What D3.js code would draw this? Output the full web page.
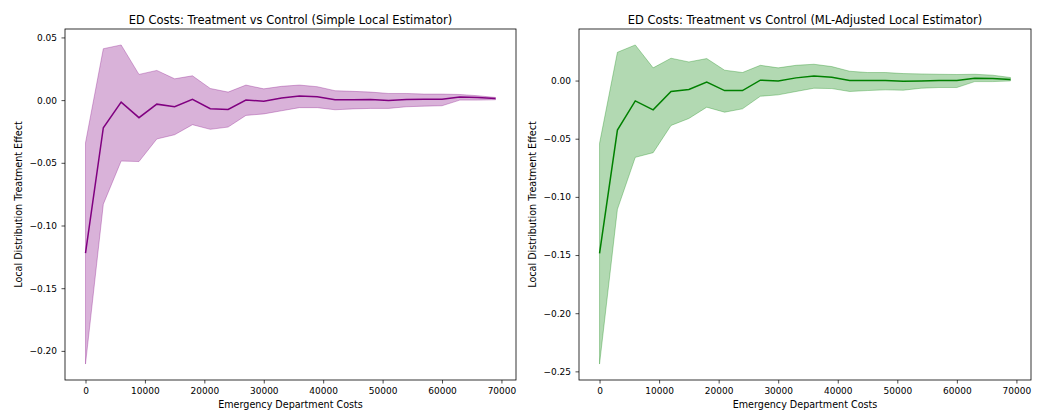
<!DOCTYPE html>
<html>
<head>
<meta charset="utf-8">
<script src="https://cdnjs.cloudflare.com/ajax/libs/d3/7.8.5/d3.min.js"></script>
<style>
  body { margin: 0; background: #fff; }
  svg text { font-family: "DejaVu Sans", sans-serif; fill: #000; }
</style>
</head>
<body>
<svg id="chart" width="1038" height="410"></svg>
<script>
// cost grid (x) shared by both panels
const costGrid = [0, 3000, 6000, 9000, 12000, 15000, 18000, 21000, 24000, 27000, 30000, 33000,
                  36000, 39000, 42000, 45000, 48000, 51000, 54000, 57000, 60000, 63000, 66000, 69000];

// simple local estimator
const simpleMean = [-0.122, -0.022, -0.0016, -0.014, -0.0032, -0.0053, 0.0006, -0.0069, -0.0074, 0.0, -0.0008, 0.0016,
                    0.0032, 0.0027, 0.0003, 0.0003, 0.0005, -0.0003, 0.0005, 0.0006, 0.0006, 0.0024, 0.002, 0.0013];
const simpleUpper = [-0.034, 0.041, 0.044, 0.0205, 0.0237, 0.017, 0.0194, 0.0093, 0.0064, 0.012, 0.009, 0.011,
                     0.012, 0.0107, 0.0075, 0.007, 0.0064, 0.0053, 0.0053, 0.0048, 0.0048, 0.0045, 0.0035, 0.0021];
const simpleLower = [-0.2105, -0.083, -0.0486, -0.049, -0.031, -0.0276, -0.0196, -0.0233, -0.0215, -0.0122, -0.011, -0.0085,
                     -0.006, -0.006, -0.0077, -0.007, -0.0066, -0.0066, -0.0053, -0.0048, -0.0045, 0.0, 0.0, 0.0003];

// ML-adjusted local estimator
const mlMean = [-0.1485, -0.0426, -0.0175, -0.0252, -0.0094, -0.0077, -0.0014, -0.0086, -0.0086, 0.0003, -0.0003, 0.0023,
                0.004, 0.0029, 0.0, 0.0, 0.0, -0.0006, -0.0003, 0.0, 0.0, 0.002, 0.0017, 0.0009];
const mlUpper = [-0.054, 0.0243, 0.0306, 0.0109, 0.0192, 0.016, 0.0189, 0.0089, 0.0069, 0.0131, 0.0109, 0.0131,
                 0.014, 0.012, 0.008, 0.0069, 0.0069, 0.006, 0.0057, 0.0054, 0.0052, 0.0054, 0.0046, 0.0026];
const mlLower = [-0.2437, -0.1107, -0.066, -0.062, -0.0386, -0.0326, -0.0229, -0.0272, -0.0243, -0.0135, -0.0123, -0.0094,
                 -0.0066, -0.0069, -0.0094, -0.0086, -0.008, -0.0083, -0.0066, -0.006, -0.006, -0.0009, -0.0009, -0.0003];

const xTicks = [0, 10000, 20000, 30000, 40000, 50000, 60000, 70000];
const simpleYTicks = [0.05, 0.0, -0.05, -0.10, -0.15, -0.20];
const mlYTicks = [0.0, -0.05, -0.10, -0.15, -0.20, -0.25];

const svg = d3.select('#chart');
const fmtY = (d) => d3.format('.2f')(d).replace('-', '\u2212');

function drawPanel(opts) {
    const { left, right, top, bottom, title, mean, lower, upper, yTicks, lineColor, fillColor } = opts;

    // matplotlib-like 5% margins
    const xExt = d3.extent(costGrid);
    const xPad = (xExt[1] - xExt[0]) * 0.05;
    const yMin = d3.min(lower), yMax = d3.max(upper);
    const yPad = (yMax - yMin) * 0.05;

    const x = d3.scaleLinear().domain([xExt[0] - xPad, xExt[1] + xPad]).range([left, right]);
    const y = d3.scaleLinear().domain([yMin - yPad, yMax + yPad]).range([bottom, top]);

    const g = svg.append('g');
    const rows = costGrid.map((c, i) => ({ c, m: mean[i], lo: lower[i], hi: upper[i] }));

    const area = d3.area().x((d) => x(d.c)).y0((d) => y(d.lo)).y1((d) => y(d.hi));
    g.append('path').datum(rows)
        .attr('d', area)
        .attr('fill', fillColor)
        .attr('fill-opacity', 0.3)
        .attr('stroke', fillColor)
        .attr('stroke-opacity', 0.3)
        .attr('stroke-width', 1);

    const line = d3.line().x((d) => x(d.c)).y((d) => y(d.m));
    g.append('path').datum(rows)
        .attr('d', line)
        .attr('fill', 'none')
        .attr('stroke', lineColor)
        .attr('stroke-width', 1.5);

    const xAxis = g.append('g')
        .attr('transform', `translate(0,${bottom})`)
        .call(d3.axisBottom(x).tickValues(xTicks).tickFormat(d3.format('d')).tickSize(3.5).tickPadding(4));
    const yAxis = g.append('g')
        .attr('transform', `translate(${left},0)`)
        .call(d3.axisLeft(y).tickValues(yTicks).tickFormat(fmtY).tickSize(3.5).tickPadding(4.5));

    [xAxis, yAxis].forEach((a) => {
        a.select('.domain').remove();
        a.selectAll('text').attr('font-size', 9).attr('fill', '#000');
        a.selectAll('line').attr('stroke', '#000').attr('stroke-width', 0.7);
    });

    g.append('rect')
        .attr('x', left).attr('y', top)
        .attr('width', right - left).attr('height', bottom - top)
        .attr('fill', 'none').attr('stroke', '#000').attr('stroke-width', 0.8);

    g.append('text')
        .attr('x', (left + right) / 2).attr('y', top - 5)
        .attr('text-anchor', 'middle').attr('font-size', 11.5)
        .text(title);

    g.append('text')
        .attr('x', (left + right) / 2).attr('y', 407.5)
        .attr('text-anchor', 'middle').attr('font-size', 9.6)
        .text('Emergency Department Costs');

    g.append('text')
        .attr('transform', `translate(${left - 43},${(top + bottom) / 2}) rotate(-90)`)
        .attr('text-anchor', 'middle').attr('font-size', 9.6)
        .text('Local Distribution Treatment Effect');
}

drawPanel({
    left: 65, right: 516, top: 29, bottom: 380,
    title: 'ED Costs: Treatment vs Control (Simple Local Estimator)',
    mean: simpleMean, lower: simpleLower, upper: simpleUpper,
    yTicks: simpleYTicks, lineColor: 'purple', fillColor: 'purple'
});

drawPanel({
    left: 579, right: 1031, top: 29, bottom: 380,
    title: 'ED Costs: Treatment vs Control (ML-Adjusted Local Estimator)',
    mean: mlMean, lower: mlLower, upper: mlUpper,
    yTicks: mlYTicks, lineColor: 'green', fillColor: 'green'
});
</script>
</body>
</html>
